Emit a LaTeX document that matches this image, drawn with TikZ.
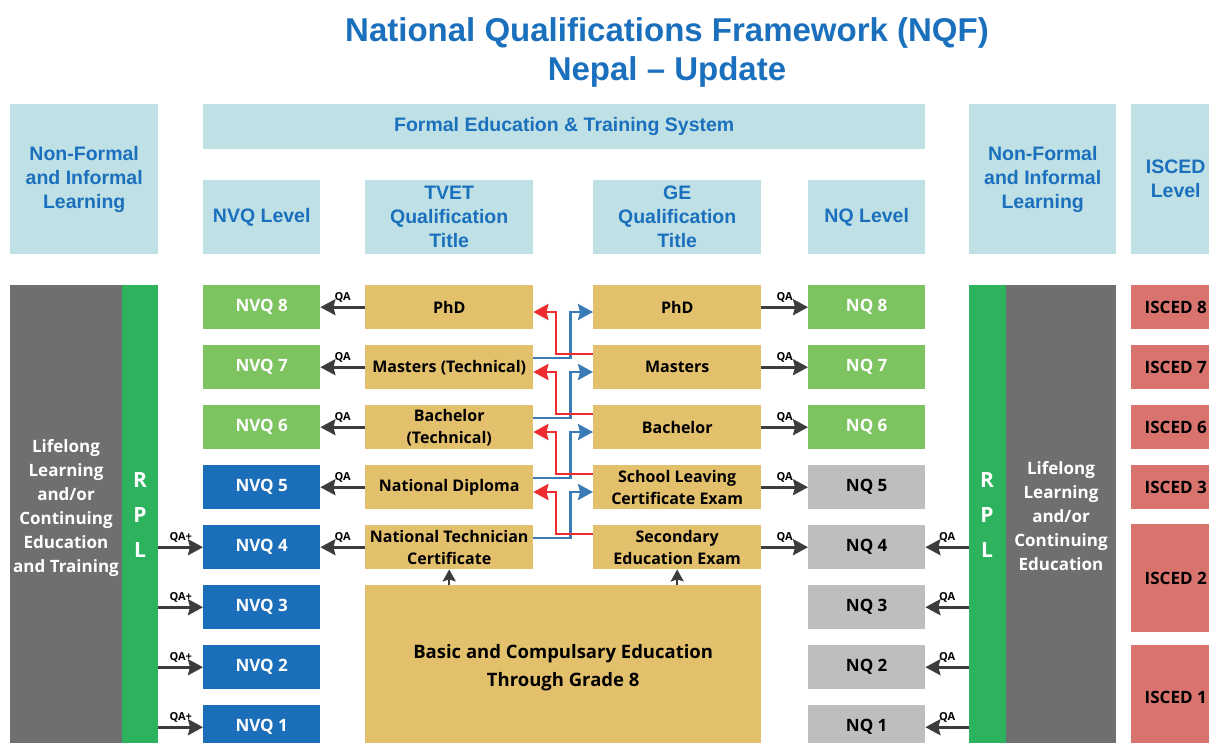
\documentclass[tikz,border=0pt]{standalone}
\usepackage{fontspec}
\setmainfont{Open Sans}
\newfontfamily\hfont{Liberation Sans}
\usetikzlibrary{arrows.meta,calc}

\definecolor{titleblue}{HTML}{1B70BE}
\definecolor{hdrfill}{HTML}{BFE0E5}
\definecolor{lgreen}{HTML}{7DC360}
\definecolor{dblue}{HTML}{1B6FBA}
\definecolor{tanbox}{HTML}{E3C06C}
\definecolor{lgrey}{HTML}{BCBEC0}
\definecolor{iscedred}{HTML}{D9736E}
\definecolor{colgrey}{HTML}{6D6F71}
\definecolor{rplgreen}{HTML}{2DB35D}
\definecolor{arrdark}{HTML}{3C3C3C}
\definecolor{xred}{HTML}{EE2B2F}
\definecolor{xblue}{HTML}{3B7CB8}

\begin{document}
\begin{tikzpicture}[x=1pt,y=-1pt,
  hdr/.style={fill=hdrfill, draw=none, text=titleblue, anchor=north west,
    font=\hfont\bfseries\fontsize{19.5}{24}\selectfont, align=center, inner sep=0pt},
  lvl/.style={draw=none, anchor=north west, font=\bfseries\fontsize{17}{20}\selectfont,
    minimum width=117pt, minimum height=44pt, inner sep=0pt, align=center},
  qual/.style={draw=none, fill=tanbox, anchor=north west, font=\bfseries\fontsize{16}{22}\selectfont,
    minimum width=168pt, minimum height=44pt, inner sep=0pt, align=center},
  isced/.style={draw=none, fill=iscedred, anchor=north west, font=\bfseries\fontsize{17}{20}\selectfont,
    minimum width=89pt, inner sep=0pt, align=center},
  col/.style={draw=none, anchor=north west, inner sep=0pt},
  coltext/.style={text=white, font=\bfseries\fontsize{17}{24}\selectfont, align=center},
  rpltext/.style={text=white, font=\bfseries\fontsize{21}{35}\selectfont, align=center},
  qa/.style={draw=arrdark, line width=2.6pt, -{Stealth[width=16pt,length=15pt,inset=2pt]}},
  qalbl/.style={above=4pt, inner sep=0pt, text=black, font=\bfseries\fontsize{11}{12}\selectfont},
  uparr/.style={draw=arrdark, line width=2.2pt, -{Stealth[width=13pt,length=12pt,inset=2pt]}},
  redarr/.style={draw=xred, line width=2.8pt, -{Stealth[width=16pt,length=15pt,inset=2pt]}},
  bluearr/.style={draw=xblue, line width=2.8pt, -{Stealth[width=16pt,length=15pt,inset=2pt]}}
]
\useasboundingbox (0,0) rectangle (1209,742);
\fill[white] (0,0) rectangle (1209,742);

% title
\node[text=titleblue, font=\hfont\bfseries\fontsize{33}{39}\selectfont, align=center] (title) at (667,52)
  {National Qualifications Framework (NQF)\\Nepal – Update};

% headers
\node[hdr, minimum width=148pt, minimum height=150pt] (hnfL) at (10,104) {Non-Formal\\and Informal\\Learning};
\node[hdr, minimum width=722pt, minimum height=45pt] (hformal) at (203,104) {Formal Education \& Training System};
\node[hdr, minimum width=117pt, minimum height=74pt] (hnvq) at (203,180) {NVQ Level};
\node[hdr, minimum width=168pt, minimum height=74pt] (htvet) at (365,180) {TVET\\Qualification\\Title};
\node[hdr, minimum width=168pt, minimum height=74pt] (hge) at (593,180) {GE\\Qualification\\Title};
\node[hdr, minimum width=117pt, minimum height=74pt] (hnq) at (808,180) {NQ Level};
\node[hdr, minimum width=147pt, minimum height=150pt] (hnfR) at (969,104) {Non-Formal\\and Informal\\Learning};
\node[hdr, minimum width=89pt, minimum height=150pt] (hisced) at (1131,104) {ISCED\\Level};

% side columns
\node[col, fill=colgrey, minimum width=112pt, minimum height=470pt] (greyL) at (10,285) {};
\node[col, fill=rplgreen, minimum width=36pt, minimum height=470pt] (rplL) at (122,285) {};
\node[coltext] (greyLtxt) at (66,508) {Lifelong\\Learning\\and/or\\Continuing\\Education\\and Training};
\node[rpltext] (rplLtxt) at (140,515) {R\\P\\L};

\node[col, fill=rplgreen, minimum width=37pt, minimum height=470pt] (rplR) at (969,285) {};
\node[col, fill=colgrey, minimum width=110pt, minimum height=470pt] (greyR) at (1006,285) {};
\node[coltext] (greyRtxt) at (1061,516) {Lifelong\\Learning\\and/or\\Continuing\\Education};
\node[rpltext] (rplRtxt) at (987,515) {R\\P\\L};

% NVQ and NQ levels
\foreach \k in {6,7,8} {
  \pgfmathtruncatemacro\rtop{285+60*(8-\k)}
  \node[lvl, fill=lgreen, text=white] (nvq\k) at (203,\rtop) {NVQ \k};
  \node[lvl, fill=lgreen, text=white] (nq\k) at (808,\rtop) {NQ \k};
}
\foreach \k in {1,...,5} {
  \pgfmathtruncatemacro\rtop{285+60*(8-\k)}
  \node[lvl, fill=dblue, text=white] (nvq\k) at (203,\rtop) {NVQ \k};
  \node[lvl, fill=lgrey, text=black] (nq\k) at (808,\rtop) {NQ \k};
}

% TVET titles
\node[qual] (tv8) at (365,285) {PhD};
\node[qual] (tv7) at (365,345) {Masters (Technical)};
\node[qual] (tv6) at (365,405) {Bachelor\\(Technical)};
\node[qual] (tv5) at (365,465) {National Diploma};
\node[qual] (tv4) at (365,525) {National Technician\\Certificate};
% GE titles
\node[qual] (ge8) at (593,285) {PhD};
\node[qual] (ge7) at (593,345) {Masters};
\node[qual] (ge6) at (593,405) {Bachelor};
\node[qual] (ge5) at (593,465) {School Leaving\\Certificate Exam};
\node[qual] (ge4) at (593,525) {Secondary\\Education Exam};

% basic education
\node[qual, minimum width=396pt, minimum height=165pt, font=\bfseries\fontsize{18.5}{28}\selectfont] (basic) at (365,585)
  {Basic and Compulsary Education\\Through Grade 8};

% ISCED
\node[isced, minimum height=44pt] (is8) at (1131,285) {ISCED 8};
\node[isced, minimum height=44pt] (is7) at (1131,345) {ISCED 7};
\node[isced, minimum height=44pt] (is6) at (1131,405) {ISCED 6};
\node[isced, minimum height=44pt] (is3) at (1131,465) {ISCED 3};
\node[isced, minimum height=108pt] (is2) at (1131,524) {ISCED 2};
\node[isced, minimum height=105pt] (is1) at (1131,645) {ISCED 1};

% QA arrows
\foreach \k in {4,...,8} {
  \draw[qa] (tv\k.west) -- node[qalbl] {QA} (nvq\k.east);
  \draw[qa] (ge\k.east) -- node[qalbl] {QA} (nq\k.west);
}
\foreach \k in {1,...,4} {
  \draw[qa] (nvq\k.west -| rplL.east) -- node[qalbl] {QA+} (nvq\k.west);
  \draw[qa] (nq\k.east -| rplR.west) -- node[qalbl] {QA} (nq\k.east);
}

% up arrows from basic education
\draw[uparr] (tv4.south |- basic.north) -- (tv4.south);
\draw[uparr] (ge4.south |- basic.north) -- (ge4.south);

% crossing progression arrows
\foreach \k/\kk in {4/5,5/6,6/7,7/8} {
  \draw[bluearr] ([yshift=-13pt]tv\k.north east) -- ++(37,0) |- ([yshift=-27pt]ge\kk.north west);
  \draw[redarr] ([yshift=-9pt]ge\k.north west) -- ++(-37,0) |- ([yshift=-27pt]tv\kk.north east);
}
\end{tikzpicture}
\end{document}
